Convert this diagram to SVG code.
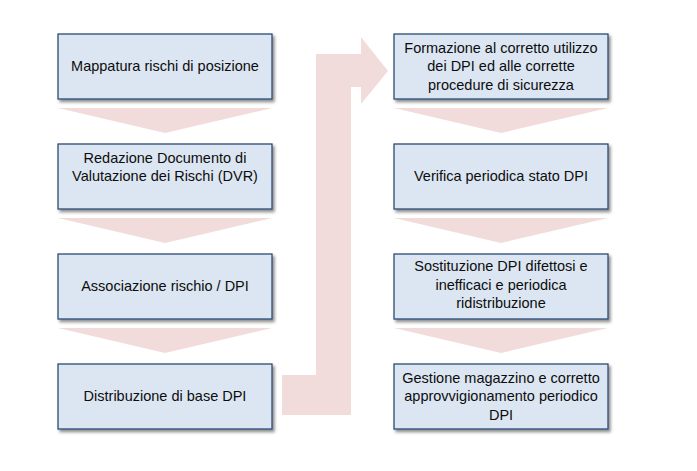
<svg xmlns="http://www.w3.org/2000/svg" width="697" height="471" viewBox="0 0 697 471">
  <defs>
    <filter id="sh" x="-10%" y="-10%" width="120%" height="130%">
      <feDropShadow dx="2" dy="2.5" stdDeviation="1.5" flood-color="#000" flood-opacity="0.45"/>
    </filter>
  </defs>
  <style>
    .box { fill: #DCE6F2; stroke: #2B4C74; stroke-width: 1.3; filter: url(#sh); }
    .arr { fill: #F2DCDB; stroke: none; }
    .t { font-family: "Liberation Sans", Arial, sans-serif; font-size: 14.5px; fill: #0d0d0d; text-anchor: middle; }
  </style>
  <rect width="697" height="471" fill="#ffffff"/>
  <g id="connectors">
    <polygon class="arr" points="58,108 272,108 165,133"/>
    <polygon class="arr" points="58,218 272,218 165,243"/>
    <polygon class="arr" points="58,328 272,328 165,353"/>
    <polygon class="arr" points="394,108 608,108 501,133"/>
    <polygon class="arr" points="394,218 608,218 501,243"/>
    <polygon class="arr" points="394,328 608,328 501,353"/>
    <polygon class="arr" points="282,375 316,375 316,54 361,54 361,37 388,71 361,104 361,87 351,87 351,415 282,415"/>
  </g>
  <g id="n1">
    <rect class="box" x="58" y="34" width="214" height="65"/>
    <text class="t" x="165" y="71">Mappatura rischi di posizione</text>
  </g>
  <g id="n2">
    <rect class="box" x="58" y="144" width="214" height="65"/>
    <text class="t" x="165" y="162.5">Redazione Documento di</text>
    <text class="t" x="165" y="181">Valutazione dei Rischi (DVR)</text>
  </g>
  <g id="n3">
    <rect class="box" x="58" y="254" width="214" height="65"/>
    <text class="t" x="165" y="290.5">Associazione rischio / DPI</text>
  </g>
  <g id="n4">
    <rect class="box" x="58" y="364" width="214" height="65"/>
    <text class="t" x="165" y="400.5">Distribuzione di base DPI</text>
  </g>
  <g id="n5">
    <rect class="box" x="394" y="34" width="214" height="65"/>
    <text class="t" x="501" y="52.5">Formazione al corretto utilizzo</text>
    <text class="t" x="501" y="71">dei DPI ed alle corrette</text>
    <text class="t" x="501" y="89.5">procedure di sicurezza</text>
  </g>
  <g id="n6">
    <rect class="box" x="394" y="144" width="214" height="65"/>
    <text class="t" x="501" y="181">Verifica periodica stato DPI</text>
  </g>
  <g id="n7">
    <rect class="box" x="394" y="254" width="214" height="65"/>
    <text class="t" x="501" y="271">Sostituzione DPI difettosi e</text>
    <text class="t" x="501" y="289.5">inefficaci e periodica</text>
    <text class="t" x="501" y="308">ridistribuzione</text>
  </g>
  <g id="n8">
    <rect class="box" x="394" y="364" width="214" height="65"/>
    <text class="t" x="501" y="382.5">Gestione magazzino e corretto</text>
    <text class="t" x="501" y="401">approvvigionamento periodico</text>
    <text class="t" x="501" y="419.5">DPI</text>
  </g>
</svg>
